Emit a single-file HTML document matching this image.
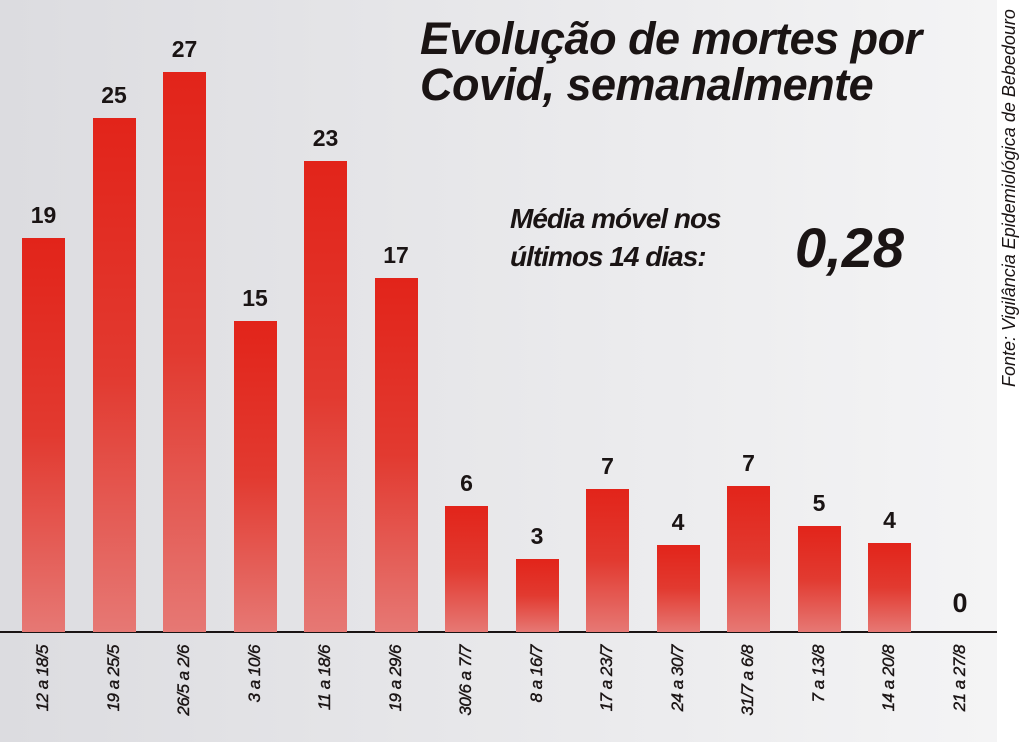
<!DOCTYPE html><html><head><meta charset="utf-8"><style>
body{margin:0;width:1024px;height:742px;overflow:hidden;font-family:"Liberation Sans",sans-serif}
#bg{position:absolute;left:0;top:0;width:997px;height:742px;background:linear-gradient(90deg,#dcdce0,#f4f4f5)}
.bar{position:absolute;width:43px;background:linear-gradient(180deg,#e2241a 0%,#e23a30 50%,#e67874 100%)}
.v{position:absolute;width:60px;text-align:center;font-weight:bold;font-size:23px;color:#1a1414}
.l{position:absolute;width:100px;height:20px;transform-origin:0 0;transform:rotate(-90deg);text-align:right;font-style:italic;font-size:17px;color:#1a1414;white-space:nowrap;letter-spacing:-0.5px;-webkit-text-stroke:0.4px #1a1414}
</style></head><body><div id="bg"></div>
<div style="position:absolute;left:0;top:631px;width:997px;height:2px;background:#1a1414"></div>
<div style="position:absolute;left:420px;top:16px;font-weight:bold;font-style:italic;font-size:45px;line-height:46px;color:#1a1414;letter-spacing:-0.5px">Evolução de mortes por<br>Covid, semanalmente</div>
<div style="position:absolute;left:510px;top:200px;font-weight:bold;font-style:italic;font-size:28px;line-height:38px;color:#1a1414;letter-spacing:-1px">Média móvel nos<br>últimos 14 dias:</div>
<div style="position:absolute;left:795px;top:215px;font-weight:bold;font-style:italic;font-size:56px;color:#1a1414">0,28</div>
<div style="position:absolute;left:999px;top:387px;width:385px;transform-origin:0 0;transform:rotate(-90deg);font-style:italic;font-size:18px;color:#1a1414;white-space:nowrap">Fonte: Vigilância Epidemiológica de Bebedouro</div>
<div id="c"></div>
<script>
var d=[[19,"12 a 18/5",238],[25,"19 a 25/5",118],[27,"26/5 a 2/6",72],[15,"3 a 10/6",321],[23,"11 a 18/6",161],[17,"19 a 29/6",278],[6,"30/6 a 7/7",506],[3,"8 a 16/7",559],[7,"17 a 23/7",489],[4,"24 a 30/7",545],[7,"31/7 a 6/8",486],[5,"7 a 13/8",526],[4,"14 a 20/8",543],[0,"21 a 27/8",632]];
var h="";d.forEach(function(e,i){var x=22+i*70.5,t=e[2];
if(e[0]>0)h+='<div class="bar" style="left:'+x+'px;top:'+t+'px;height:'+(632-t)+'px"></div>';
var fs=e[0]==0?'font-size:27px;':'';
h+='<div class="v" style="'+fs+'left:'+(x-8.5)+'px;top:'+(t-(e[0]==0?44:36))+'px">'+e[0]+'</div>';
h+='<div class="l" style="left:'+(x+11)+'px;top:745px">'+e[1]+'</div>';});
document.getElementById("c").innerHTML=h;
</script></body></html>
